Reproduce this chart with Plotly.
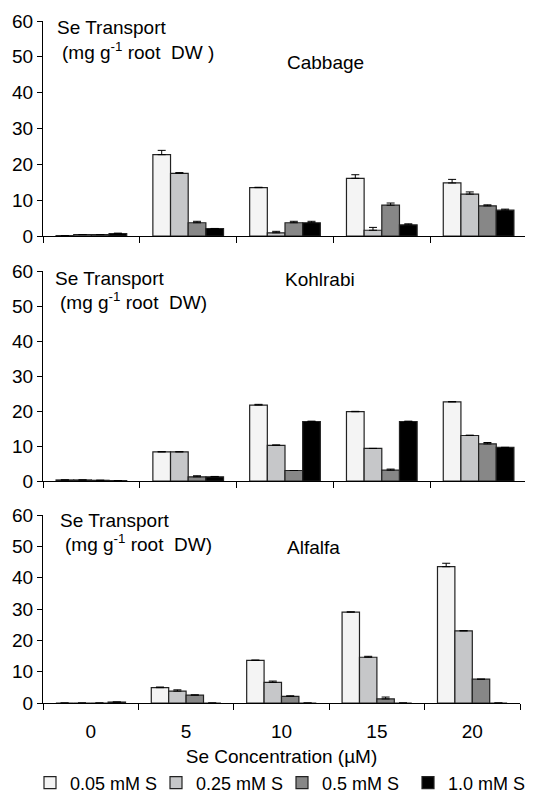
import plotly.graph_objects as go

conc = ["0", "5", "10", "15", "20"]
series = ["0.05 mM S", "0.25 mM S", "0.5 mM S", "1.0 mM S"]
colors = ["#f4f4f4", "#c6c7c9", "#878787", "#000000"]

cabbage = [
    [0.1, 22.7, 13.5, 16.1, 14.8],
    [0.4, 17.5, 0.9, 1.6, 11.7],
    [0.4, 3.7, 3.7, 8.6, 8.4],
    [0.7, 2.1, 3.7, 3.1, 7.2],
]
cabbage_err = [
    [0.0, 1.2, 0.1, 1.0, 1.0],
    [0.0, 0.2, 0.4, 0.8, 0.6],
    [0.0, 0.4, 0.4, 0.6, 0.3],
    [0.1, 0.0, 0.4, 0.3, 0.3],
]
kohlrabi = [
    [0.3, 8.3, 21.7, 19.8, 22.6],
    [0.3, 8.3, 10.2, 9.3, 13.0],
    [0.2, 1.2, 3.0, 3.1, 10.6],
    [0.1, 1.2, 17.0, 17.0, 9.6],
]
kohlrabi_err = [
    [0.0, 0.1, 0.2, 0.1, 0.1],
    [0.0, 0.1, 0.1, 0.0, 0.1],
    [0.0, 0.3, 0.0, 0.3, 0.4],
    [0.0, 0.1, 0.1, 0.1, 0.0],
]
alfalfa = [
    [0.0, 4.9, 13.6, 29.0, 43.5],
    [0.0, 3.8, 6.6, 14.6, 23.0],
    [0.0, 2.5, 2.1, 1.3, 7.6],
    [0.3, 0.0, 0.0, 0.0, 0.0],
]
alfalfa_err = [
    [0.0, 0.2, 0.1, 0.1, 1.1],
    [0.0, 0.4, 0.4, 0.3, 0.1],
    [0.0, 0.1, 0.2, 0.6, 0.0],
    [0.0, 0.0, 0.0, 0.0, 0.0],
]
crops = ["Cabbage", "Kohlrabi", "Alfalfa"]
yticks = [0, 10, 20, 30, 40, 50, 60]

FONT = "Arial, Liberation Sans, sans-serif"
fig = go.Figure()

panels = [(cabbage, cabbage_err), (kohlrabi, kohlrabi_err), (alfalfa, alfalfa_err)]
for p, (vals, errs) in enumerate(panels):
    ax = "" if p == 0 else str(p + 1)
    for i, name in enumerate(series):
        fig.add_trace(go.Bar(
            x=conc, y=vals[i], name=name,
            marker=dict(color=colors[i], line=dict(color="#222222", width=1.2)),
            error_y=dict(type="data", array=errs[i], arrayminus=[0] * 5,
                         symmetric=False, color="#000000", thickness=1, width=4),
            xaxis="x" + ax, yaxis="y" + ax,
            showlegend=(p == 0), legendgroup=name,
        ))

# page has an 8px body margin; positions below are given in reference pixels
H = 682.0
def frac(px):
    return (703 - px) / H

def xfrac(px):
    return (px - 43) / 484.0

ydoms = [[frac(236), 1.0], [frac(481), frac(271)], [0.0, frac(515)]]
xdoms = [[0, 1.0], [0, 1.0], [0, 477 / 484]]

layout = dict(
    width=533, height=802,
    margin=dict(l=35, r=14, t=13, b=107, autoexpand=False),
    paper_bgcolor="white", plot_bgcolor="white",
    font=dict(family=FONT, size=19, color="#000000"),
    barmode="group", bargap=0.27, bargroupgap=0.0,
    legend=dict(orientation="h", x=xfrac(30), y=frac(783), yanchor="middle",
                xanchor="left", font=dict(size=18), itemwidth=30,
                entrywidth=81, entrywidthmode="pixels",
                traceorder="normal", bgcolor="rgba(0,0,0,0)"),
    showlegend=True,
)
for p in range(3):
    ax = "" if p == 0 else str(p + 1)
    xa = dict(
        domain=xdoms[p], anchor="y" + ax, type="category",
        showline=True, linecolor="#000000", linewidth=1,
        ticks="outside", ticklen=6, tickcolor="#000000", tickwidth=1,
        tickson="boundaries", showgrid=False, zeroline=False,
        showticklabels=(p == 2), tickfont=dict(size=19),
        ticklabelstandoff=11,
    )
    if p == 2:
        xa["title"] = dict(text="Se Concentration (µM)", font=dict(size=19), standoff=8)
    layout["xaxis" + ax] = xa
    layout["yaxis" + ax] = dict(
        domain=ydoms[p], anchor="x" + ax, range=[0, 60],
        tickvals=yticks, ticktext=[str(v) for v in yticks],
        showline=True, linecolor="#000000", linewidth=1,
        ticks="outside", ticklen=5, tickcolor="#000000",
        showgrid=False, zeroline=False, tickfont=dict(size=19),
    )

annotations = []
title_pos = [(325, 63), (320, 279), (313, 547)]
label_pos = [(55, 28, 60, 51), (53, 278, 58, 301), (58, 520, 63, 543)]
unit_text = ["(mg g<sup>-1</sup> root  DW )", "(mg g<sup>-1</sup> root  DW)", "(mg g<sup>-1</sup> root  DW)"]
for p in range(3):
    tx, ty = title_pos[p]
    annotations.append(dict(text=crops[p], xref="paper", yref="paper",
                            x=xfrac(tx), y=frac(ty), showarrow=False,
                            xanchor="center", yanchor="middle", font=dict(size=19)))
    x1, y1, x2, y2 = label_pos[p]
    annotations.append(dict(text="Se Transport", xref="paper", yref="paper",
                            x=xfrac(x1), y=frac(y1), showarrow=False,
                            xanchor="left", yanchor="middle", font=dict(size=19)))
    annotations.append(dict(text=unit_text[p], xref="paper", yref="paper",
                            x=xfrac(x2), y=frac(y2), showarrow=False,
                            xanchor="left", yanchor="middle", font=dict(size=19)))
layout["annotations"] = annotations

fig.update_layout(**layout)
fig.write_html("out.html")
